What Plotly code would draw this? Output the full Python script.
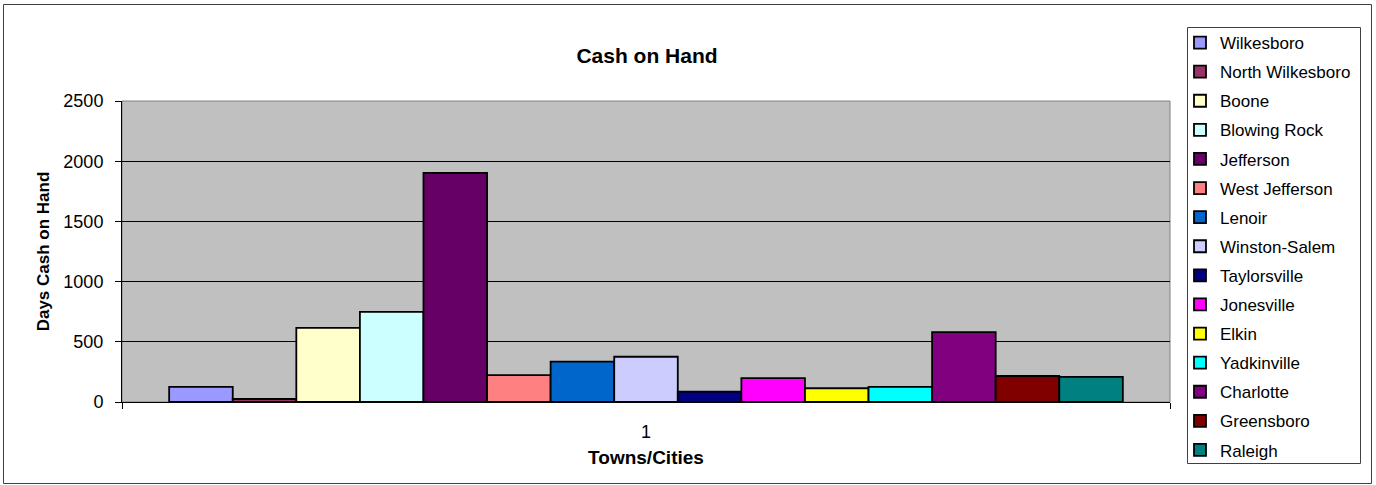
import plotly.graph_objects as go

category = ["1"]
towns = ["Wilkesboro", "North Wilkesboro", "Boone", "Blowing Rock", "Jefferson",
         "West Jefferson", "Lenoir", "Winston-Salem", "Taylorsville", "Jonesville",
         "Elkin", "Yadkinville", "Charlotte", "Greensboro", "Raleigh"]
days_cash = [125, 25, 615, 748, 1902, 224, 335, 376, 86, 199, 114, 125, 581, 216, 208]
colors = ["#9999FF", "#993366", "#FFFFCC", "#CCFFFF", "#660066",
          "#FF8080", "#0066CC", "#CCCCFF", "#000080", "#FF00FF",
          "#FFFF00", "#00FFFF", "#800080", "#800000", "#008080"]
y_ticks = [0, 500, 1000, 1500, 2000, 2500]

W, H = 1376, 485
L, R, T, B = 122, 1170, 101, 402  # plot area in px
pw, ph = R - L, B - T

def px_x(x):
    return (x - L) / pw

def px_y(y):
    return (B - y) / ph

FONT = "Liberation Sans, Arial, sans-serif"

fig = go.Figure()
for name, val, col in zip(towns, days_cash, colors):
    fig.add_trace(go.Bar(
        x=category, y=[val], name=name, legendgroup=name,
        marker=dict(color=col, line=dict(color="#000000", width=1.8)),
    ))

fig.update_layout(
    width=W, height=H,
    margin=dict(l=L, r=W - R, t=T, b=H - B, pad=0),
    paper_bgcolor="#FFFFFF",
    plot_bgcolor="#C0C0C0",
    barmode="group",
    bargap=0.09,
    bargroupgap=0,
    font=dict(family=FONT, size=16, color="#000000"),
    title=dict(text="<b>Cash on Hand</b>", x=px_x(647), xref="paper", xanchor="center",
               y=1 - 56 / H, yref="container", yanchor="middle",
               font=dict(family=FONT, size=21, color="#000000")),
    showlegend=True,
    legend=dict(
        x=px_x(1180), y=px_y(25), xanchor="left", yanchor="top",
        xref="paper", yref="paper",
        traceorder="grouped", tracegroupgap=4, maxheight=480,
        font=dict(family=FONT, size=17, color="#000000"),
        bgcolor="rgba(0,0,0,0)", borderwidth=0,
    ),
    xaxis=dict(
        type="category", showgrid=False, showline=True, linecolor="#000000", linewidth=1,
        ticks="outside", tickson="boundaries", ticklen=6, tickcolor="#000000",
        ticklabelstandoff=13,
        tickfont=dict(family=FONT, size=18),
        title=dict(text="<b>Towns/Cities</b>", standoff=10,
                   font=dict(family=FONT, size=19)),
    ),
    yaxis=dict(
        range=[0, 2500], tickvals=y_ticks, showgrid=True, gridcolor="#000000", gridwidth=1,
        showline=True, linecolor="#000000", linewidth=1, zeroline=False,
        ticks="outside", ticklen=6, tickcolor="#000000",
        ticklabelstandoff=8,
        tickfont=dict(family=FONT, size=18),
        title=dict(text="<b>Days Cash on Hand</b>", standoff=9,
                   font=dict(family=FONT, size=17)),
    ),
    shapes=[
        # plot area border (gray)
        dict(type="rect", xref="paper", yref="paper", x0=0, x1=1, y0=0, y1=1,
             line=dict(color="#808080", width=1), layer="below"),
        # legend box
        dict(type="rect", xref="paper", yref="paper",
             x0=px_x(1187.5), x1=px_x(1360.5), y0=px_y(463.5), y1=px_y(27.5),
             line=dict(color="#404040", width=1), fillcolor="rgba(0,0,0,0)"),
        # outer chart border
        dict(type="rect", xref="paper", yref="paper",
             x0=px_x(3.5), x1=px_x(1371.5), y0=px_y(483.5), y1=px_y(4.5),
             line=dict(color="#404040", width=1), fillcolor="rgba(0,0,0,0)"),
    ],
)

fig.write_html("out.html", config={"displayModeBar": False},
               post_script="document.body.style.margin='0';document.body.style.overflow='hidden';")
